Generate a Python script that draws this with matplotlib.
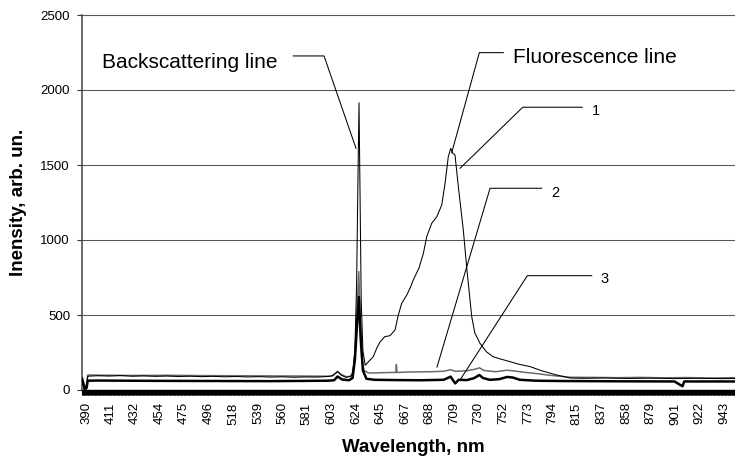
import matplotlib
matplotlib.use("Agg")
import matplotlib.pyplot as plt
from matplotlib.ticker import MultipleLocator

plt.rcParams["font.family"] = ["Liberation Sans", "DejaVu Sans"]

# ── spectra (wavelength nm, intensity arb. un.) ──
wl_1 = [386.5, 388, 389, 390.5, 391.5, 400, 410, 420, 430, 440, 450, 460, 470, 480, 490,
        500, 510, 520, 530, 540, 550, 560, 570, 580, 590, 600, 604, 608, 611, 615, 619,
        621, 623, 624.5, 625.5, 626.6, 627.5, 628.5, 630, 632, 635, 639, 642, 645, 649,
        653.5, 657.8, 660.7, 663.6, 668, 670.8, 674, 678.6, 682.4, 685.3, 689.6, 694,
        698.3, 701.2, 704, 706.1, 707.9, 709.8, 712.7, 717, 720, 724.3, 727, 731.5, 737,
        742.8, 750, 757.5, 765, 774.8, 785, 798, 809.5, 820, 840, 860, 880, 900, 920,
        940, 952.5]
int_1 = [85, 40, 8, 30, 92, 95, 93, 96, 92, 94, 91, 93, 90, 92, 89,
         91, 88, 90, 87, 89, 86, 88, 85, 87, 86, 90, 95, 125, 100, 85, 90,
         110, 260, 700, 1300, 1915, 1300, 600, 260, 165, 190, 222, 280, 322, 356,
         362, 400, 500, 578, 633, 678, 740, 813, 911, 1022, 1111, 1155,
         1233, 1378, 1556, 1611, 1578, 1567, 1356, 1067, 813, 489, 380, 311, 255,
         222, 205, 189, 172, 156, 128, 100, 80, 78, 80, 77, 79, 76, 78,
         76, 77]

wl_2 = [386.5, 388, 389, 390.5, 391.5, 400, 430, 460, 490, 520, 550, 580, 600, 603, 608,
        612, 616, 620, 622, 623.5, 625, 626.4, 627.5, 629, 631, 635, 645, 655, 658.5,
        659, 659.5, 670, 690, 700, 706, 710, 720, 728, 731, 735, 745, 755, 760, 770,
        780, 790, 800, 810, 830, 850, 870, 890, 910, 930, 952.5]
int_2 = [95, 50, 15, 40, 100, 99, 97, 98, 96, 95, 94, 93, 92, 95, 120,
         100, 88, 92, 150, 260, 550, 789, 500, 200, 130, 113, 115, 117, 117,
         170, 117, 120, 122, 125, 135, 125, 128, 140, 148, 130, 122, 132, 128, 118,
         110, 100, 92, 85, 84, 82, 84, 81, 83, 80, 82]

wl_3 = [386.5, 388, 389, 390.5, 391.5, 400, 450, 500, 550, 600, 605, 608, 612, 618,
        621, 623, 625, 626.5, 628, 630, 633, 640, 660, 680, 700, 706, 708.5, 710, 713,
        720, 726, 731, 734, 740, 748, 755, 760, 766, 780, 800, 850, 900, 907, 908.5,
        952.5]
int_3 = [70, 30, 0, 15, 62, 63, 61, 60, 59, 62, 65, 90, 70, 65,
         80, 200, 450, 620, 350, 130, 75, 68, 66, 65, 68, 89, 60, 44, 68,
         66, 78, 100, 80, 68, 72, 87, 83, 68, 62, 60, 58, 57, 25, 57,
         57]

x_tick_labels = ["390", "411", "432", "454", "475", "496", "518", "539", "560", "581",
                 "603", "624", "645", "667", "688", "709", "730", "752", "773", "794",
                 "815", "837", "858", "879", "901", "922", "943"]
y_ticks = [0, 500, 1000, 1500, 2000, 2500]

fig = plt.figure(figsize=(7.35, 4.57), dpi=100)
ax = fig.add_axes([82 / 735, 1 - 390 / 457, 1 - 82 / 735, (390 - 15) / 457])

ax.plot(wl_2, int_2, color="#6a6a6a", lw=1.1, zorder=3)
ax.plot(wl_3, int_3, color="black", lw=1.8, zorder=4)
ax.plot(wl_1, int_1, color="black", lw=0.75, zorder=5)

ax.set_xlim(386.5, 952.5)
ax.set_ylim(0, 2500)

ax.set_yticks(y_ticks)
ax.grid(True, axis="y", color="#555555", lw=0.75)
ax.set_axisbelow(True)
ax.set_xticks([float(t) for t in x_tick_labels])
ax.set_xticklabels(x_tick_labels, rotation=90)
# Excel category axis: a tick on every point -> solid black bar
ax.xaxis.set_minor_locator(MultipleLocator(0.5))
ax.tick_params(axis="x", which="both", length=3.4, width=0.8, color="black",
               direction="out", labelsize=9.5, pad=5.5)
ax.tick_params(axis="y", length=3.6, width=0.8, color="#333333", labelsize=9.5, pad=5)

ax.spines["right"].set_visible(False)
ax.spines["top"].set_color("#555555")
ax.spines["top"].set_linewidth(0.75)
ax.spines["left"].set_color("#444444")
ax.spines["left"].set_linewidth(1.1)
ax.spines["bottom"].set_color("black")
ax.spines["bottom"].set_linewidth(1.0)

ax.set_xlabel("Wavelength, nm", fontsize=13.5, fontweight="bold")
ax.xaxis.set_label_coords(413 / 735, 1 - 451.7 / 457, transform=fig.transFigure)
ax.xaxis.label.set_va("baseline")
ax.set_ylabel("Inensity, arb. un.", fontsize=13.5, fontweight="bold")
ax.yaxis.set_label_coords(19 / 735, 1 - 202.5 / 457, transform=fig.transFigure)
ax.yaxis.label.set_va("center")

# callouts: text, (text x, baseline), knee, stub end, target
notes = [
    ("Backscattering line", (403.9, 2145), (596.3, 2227), (569.7, 2227), (624.0, 1611)),
    ("Fluorescence line", (760.1, 2178), (730.9, 2249), (751.7, 2249), (707.0, 1583)),
    ("1", (828.6, 1833), (768.5, 1885), (820.1, 1885), (714.2, 1478)),
    ("2", (793.6, 1289), (740.2, 1345), (784.9, 1345), (694.2, 153)),
    ("3", (835.5, 711), (772.5, 762), (828.3, 762), (714.2, 67)),
]
for text, (tx, ty), knee, stub, target in notes:
    size = 15 if len(text) > 1 else 10.5
    ax.text(tx, ty, text, fontsize=size, ha="left", va="baseline", zorder=6)
    ax.plot([stub[0], knee[0], target[0]], [stub[1], knee[1], target[1]],
            color="black", lw=0.75, zorder=6, clip_on=False)

fig.savefig("out.png", dpi=100, facecolor="white")
